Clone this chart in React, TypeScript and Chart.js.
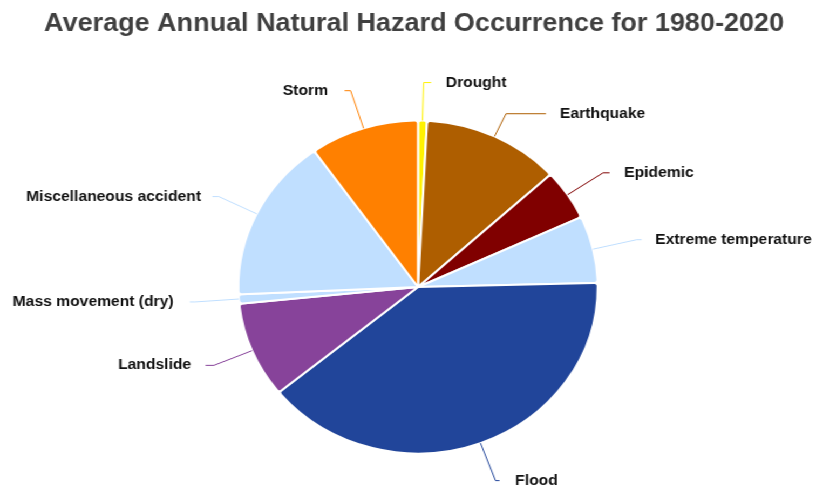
import React, { useEffect, useRef } from "react";
import { Chart, registerables } from "chart.js";

Chart.register(...registerables);

// ---- data ----
const categories = [
  "Drought",
  "Earthquake",
  "Epidemic",
  "Extreme temperature",
  "Flood",
  "Landslide",
  "Mass movement (dry)",
  "Miscellaneous accident",
  "Storm",
];
const shares = [0.8, 12.4, 4.9, 6.5, 39.5, 9.3, 0.9, 15.9, 9.8];
const colors = [
  "#FFF200",
  "#AE5E00",
  "#800000",
  "#C0DFFF",
  "#21459A",
  "#87439A",
  "#C0DFFF",
  "#C0DFFF",
  "#FF8000",
];
const titleText = "Average Annual Natural Hazard Occurrence for 1980-2020";

// ---- layout of leader lines (radial length, horizontal elbow length, text gap) ----
const leaderRadial = [38, 25, 39.5, 41.5, 40, 38.3, 40.5, 39, 39.5];
const leaderHorizontal = [7, 37, 6, 4.6, 3.7, 7.7, 5, 6, 5.6];
const labelGap = [13.5, 13, 13.5, 12.5, 14.5, 13.3, 15, 10.5, 15.5];

const W = 756;
const H = 485;
const STRETCH = 816 / 756;

const labelPlugin = {
  id: "leaderLabels",
  afterDatasetsDraw(chart: any) {
    const ctx = chart.ctx as CanvasRenderingContext2D;
    const meta = chart.getDatasetMeta(0);
    ctx.save();
    meta.data.forEach((arc: any, i: number) => {
      const { x, y, startAngle, endAngle, outerRadius } = arc.getProps(
        ["x", "y", "startAngle", "endAngle", "outerRadius"],
        true
      );
      const mid = (startAngle + endAngle) / 2;
      const c = Math.cos(mid);
      const s = Math.sin(mid);
      const r1 = outerRadius + leaderRadial[i];
      const sx = x + c * outerRadius;
      const sy = y + s * outerRadius;
      const ex = x + c * r1;
      const ey = y + s * r1;
      const dir = c >= 0 ? 1 : -1;
      const hx = ex + dir * leaderHorizontal[i];
      ctx.strokeStyle = colors[i];
      ctx.lineWidth = 1;
      ctx.beginPath();
      ctx.moveTo(sx, sy);
      ctx.lineTo(ex, ey);
      ctx.lineTo(hx, ey);
      ctx.stroke();
      ctx.fillStyle = "#111111";
      ctx.font = "bold 14.5px 'Liberation Sans', Arial, sans-serif";
      ctx.textAlign = dir > 0 ? "left" : "right";
      ctx.textBaseline = "middle";
      ctx.fillText(categories[i], hx + dir * labelGap[i], ey);
    });
    ctx.fillStyle = "#404040";
    ctx.font = "bold 25px 'Liberation Sans', Arial, sans-serif";
    ctx.textAlign = "center";
    ctx.textBaseline = "middle";
    ctx.fillText(titleText, chart.width / 2 + 5.6, 24);
    ctx.restore();
  },
};

export default function App() {
  const ref = useRef<HTMLCanvasElement | null>(null);
  useEffect(() => {
    if (!ref.current) return;
    const chart = new Chart(ref.current, {
      type: "pie",
      data: {
        labels: categories,
        datasets: [
          {
            data: shares,
            backgroundColor: colors,
            borderColor: "#ffffff",
            borderWidth: 2,
            borderRadius: 3,
            radius: 166.5,
          } as any,
        ],
      },
      options: {
        responsive: false,
        animation: false,
        events: [],
        layout: { padding: { left: 18.6, right: 0, top: 89, bottom: 0 } },
        plugins: {
          legend: { display: false },
          tooltip: { enabled: false },
          title: { display: false },
        },
      },
      plugins: [labelPlugin],
    });
    return () => chart.destroy();
  }, []);
  return (
    <div
      style={{
        position: "fixed",
        left: 0,
        top: 0,
        width: W,
        height: H,
        background: "#ffffff",
        transform: `scaleX(${STRETCH})`,
        transformOrigin: "0 0",
      }}
    >
      <canvas ref={ref} width={W} height={H} style={{ display: "block" }} />
    </div>
  );
}
